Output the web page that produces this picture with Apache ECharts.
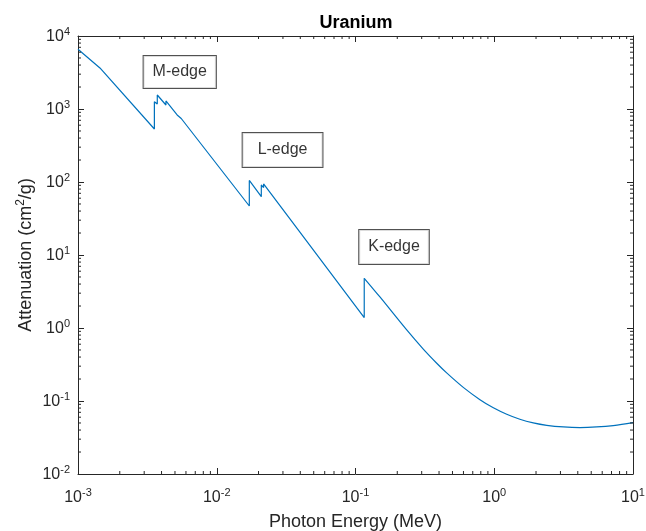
<!DOCTYPE html>
<html>
<head>
<meta charset="utf-8">
<script src="https://cdn.jsdelivr.net/npm/echarts@6/dist/echarts.min.js"></script>
<style>
html,body{margin:0;padding:0;background:#fff;}
#chart{width:646px;height:531px;}
</style>
</head>
<body>
<div id="chart"></div>
<script>
// ---- data ----
// absorption-edge region (straight segments, vertical jumps at the edges)
const edgeEnergyMeV = [
  0.001, 0.001439, 0.001439, 0.0035517, 0.0035517, 0.0037276, 0.0037276,
  0.0043033, 0.0043033, 0.0051822, 0.0051822, 0.0055477, 0.0055477,
  0.017166, 0.017166, 0.020948, 0.020948, 0.021757, 0.021757,
  0.115606, 0.115606
];
const edgeAttenuation = [
  6600, 3650, 3800, 532, 1259, 1170, 1556,
  1135, 1288, 828, 870, 741, 775,
  46.9, 105, 63, 91, 84, 94,
  1.39, 4.80
];
// smooth continuum above the K edge
const highEnergyMeV = [
  0.115606, 0.15, 0.234, 0.308, 0.385, 0.454, 0.598, 0.789,
  0.985, 1.23, 1.53, 1.91, 2.39, 3.15, 4.15, 5.47, 7.21, 10
];
const highAttenuation = [
  4.80, 2.66, 0.94, 0.514, 0.329, 0.2425, 0.1537, 0.1042,
  0.0807, 0.0658, 0.0562, 0.0501, 0.0464, 0.0441, 0.0433, 0.0441, 0.0461, 0.0505
];
const edgeLabels = ['M-edge', 'L-edge', 'K-edge'];
const edgeLabelX = [0.00541, 0.0298, 0.1895];
const edgeLabelY = [3214, 274, 12.9];
const xMajorTicks = [0.001, 0.01, 0.1, 1, 10];
const yMajorTicks = [0.01, 0.1, 1, 10, 100, 1000, 10000];
const minorMultipliers = [2, 3, 4, 5, 6, 7, 8, 9];

// ---- derived ----
const X_MIN = xMajorTicks[0], X_MAX = xMajorTicks[xMajorTicks.length - 1];
const Y_MIN = yMajorTicks[0], Y_MAX = yMajorTicks[yMajorTicks.length - 1];
const xMinor = [], yMinor = [];
for (let i = 0; i < xMajorTicks.length - 1; i++) minorMultipliers.forEach(m => xMinor.push(xMajorTicks[i] * m));
for (let i = 0; i < yMajorTicks.length - 1; i++) minorMultipliers.forEach(m => yMinor.push(yMajorTicks[i] * m));

const FONT = 'Liberation Sans, Arial, Helvetica, sans-serif';
const AX = '#262626';
const LINE = '#0072BD';
const labelPads = [[7, 9], [8, 15], [8, 9]];

const tickRich = {
  b: {fontSize: 16, fontFamily: FONT, color: AX, verticalAlign: 'bottom', lineHeight: 18},
  s: {fontSize: 11, fontFamily: FONT, color: AX, verticalAlign: 'bottom', lineHeight: 18, padding: [0, 0, 8, 0]}
};
function powLabel(v) {
  const e = Math.round(Math.log10(v));
  return '{b|10}{s|' + e + '}';
}
function axisBase(extra) {
  return Object.assign({
    type: 'log', logBase: 10, interval: 1,
    axisLine: {show: true, onZero: false, lineStyle: {color: AX, width: 1}},
    axisTick: {show: true, inside: true, length: 6, lineStyle: {color: AX, width: 1}},
    splitLine: {show: false},
    minorTick: {show: false}
  }, extra);
}

const chart = echarts.init(document.getElementById('chart'), null, {renderer: 'canvas'});
const option = {
  animation: false,
  backgroundColor: '#fff',
  title: {
    text: 'Uranium', left: 351, top: 9, textAlign: 'center',
    textStyle: {fontFamily: FONT, fontSize: 18, fontWeight: 'bold', color: '#000'}
  },
  grid: {left: 78, right: 13, top: 36, bottom: 57, containLabel: false, outerBoundsMode: 'none'},
  xAxis: [
    axisBase({
      position: 'bottom', min: X_MIN, max: X_MAX,
      axisLabel: {show: true, margin: 14, formatter: powLabel, rich: tickRich},
      name: 'Photon Energy (MeV)', nameLocation: 'middle', nameGap: 39, nameMoveOverlap: false,
      nameTextStyle: {fontFamily: FONT, fontSize: 18, color: AX}
    }),
    axisBase({position: 'top', min: X_MIN, max: X_MAX, axisLabel: {show: false}})
  ],
  yAxis: [
    axisBase({
      position: 'left', min: Y_MIN, max: Y_MAX,
      axisLabel: {show: true, margin: 8, formatter: powLabel, rich: tickRich},
      name: '{n|Attenuation (cm}{s|2}{n|/g)}', nameLocation: 'middle', nameGap: 43, nameMoveOverlap: false,
      nameTextStyle: {
        rich: {
          n: {fontFamily: FONT, fontSize: 18, color: AX, verticalAlign: 'bottom', lineHeight: 20},
          s: {fontFamily: FONT, fontSize: 12, color: AX, verticalAlign: 'bottom', lineHeight: 20, padding: [0, 0, 8, 0]}
        }
      }
    }),
    axisBase({position: 'right', min: Y_MIN, max: Y_MAX, axisLabel: {show: false}})
  ],
  series: [
    {
      type: 'line', xAxisIndex: 0, yAxisIndex: 0,
      data: edgeEnergyMeV.map((e, i) => [e, edgeAttenuation[i]]),
      showSymbol: false, symbol: 'none', smooth: false,
      lineStyle: {color: LINE, width: 1.2},
      z: 3
    },
    {
      type: 'line', xAxisIndex: 0, yAxisIndex: 0,
      data: highEnergyMeV.map((e, i) => [e, highAttenuation[i]]),
      showSymbol: false, symbol: 'none', smooth: 0.35,
      lineStyle: {color: LINE, width: 1.2},
      z: 3
    },
    {
      type: 'custom', xAxisIndex: 0, yAxisIndex: 0, silent: true, clip: false,
      data: xMinor.map(v => [v, Y_MIN]),
      renderItem: function (params, api) {
        const x = api.value(0);
        const b = api.coord([x, Y_MIN]);
        const t = api.coord([x, Y_MAX]);
        const st = {stroke: AX, lineWidth: 1};
        return {type: 'group', children: [
          {type: 'line', shape: {x1: b[0], y1: b[1], x2: b[0], y2: b[1] - 3}, style: st},
          {type: 'line', shape: {x1: t[0], y1: t[1], x2: t[0], y2: t[1] + 3}, style: st}
        ]};
      },
      z: 4
    },
    {
      type: 'custom', xAxisIndex: 0, yAxisIndex: 0, silent: true, clip: false,
      data: yMinor.map(v => [X_MIN, v]),
      renderItem: function (params, api) {
        const y = api.value(1);
        const l = api.coord([X_MIN, y]);
        const r = api.coord([X_MAX, y]);
        const st = {stroke: AX, lineWidth: 1};
        return {type: 'group', children: [
          {type: 'line', shape: {x1: l[0], y1: l[1], x2: l[0] + 3, y2: l[1]}, style: st},
          {type: 'line', shape: {x1: r[0], y1: r[1], x2: r[0] - 3, y2: r[1]}, style: st}
        ]};
      },
      z: 4
    },
    {
      type: 'scatter', xAxisIndex: 0, yAxisIndex: 0, silent: true,
      symbol: 'rect', symbolSize: 1, itemStyle: {color: 'rgba(0,0,0,0)'},
      data: edgeLabels.map((n, i) => ({
        name: n, value: [edgeLabelX[i], edgeLabelY[i]],
        label: {padding: labelPads[i]}
      })),
      label: {
        show: true, position: 'inside', formatter: '{b}',
        fontFamily: FONT, fontSize: 16, color: '#000', lineHeight: 18,
        backgroundColor: '#fff', borderColor: AX, borderWidth: 1
      },
      z: 5
    }
  ]
};
chart.setOption(option);
</script>
</body>
</html>
